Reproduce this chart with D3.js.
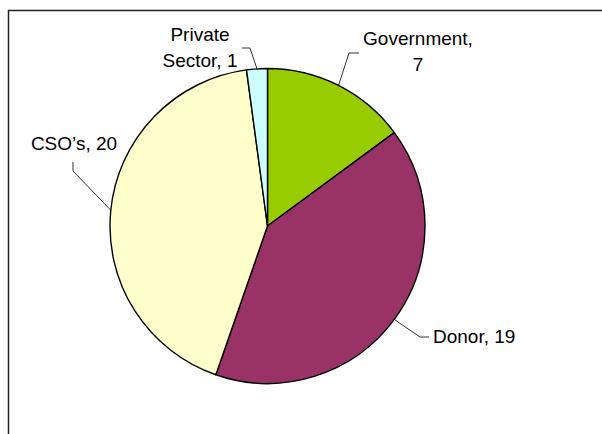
<!DOCTYPE html>
<html>
<head>
<meta charset="utf-8">
<script src="https://cdn.jsdelivr.net/npm/d3@7"></script>
<style>
  html, body { margin: 0; padding: 0; background: #fff; }
  svg { display: block; }
  text { font-family: "Liberation Sans", Arial, sans-serif; font-size: 19px; fill: #000; }
</style>
</head>
<body>
<div id="chart"></div>
<script>
// data
const categories = ["Government", "Donor", "CSO\u2019s", "Private Sector"];
const values = [7, 19, 20, 1];
const colors = ["#99CC00", "#993366", "#FFFFCC", "#CCFFFF"];
// label text lines as shown in the chart
const labelLines = [
    ["Government,", "7"],
    ["Donor, 19"],
    ["CSO\u2019s, 20"],
    ["Private", "Sector, 1"]
];

// layout of the labels (elbow / end of leader, text anchor)
const labelLayout = [
    { elbow: [349, 53], end: [359, 53], tx: 418, ty: 45, anchor: "middle" },
    { elbow: [420, 337], end: [429, 337], tx: 433, ty: 343, anchor: "start" },
    { elbow: [73, 171], end: [73, 162], tx: 74, ty: 150, anchor: "middle" },
    { elbow: [250, 48], end: [242, 48], tx: 200, ty: 41, anchor: "middle" }
];

const width = 602, height = 434;
const cx = 267.5, cy = 226, r = 157.5;

const svg = d3.select("#chart").append("svg")
    .attr("width", width)
    .attr("height", height);

svg.append("rect").attr("width", width).attr("height", height).attr("fill", "#fff");

// chart area frame (extends beyond the window on right/bottom)
svg.append("rect")
    .attr("x", 8.5).attr("y", 10.5)
    .attr("width", 700).attr("height", 600)
    .attr("fill", "none")
    .attr("stroke", "#222")
    .attr("stroke-width", 1.5);

const data = categories.map((c, i) => ({ name: c, value: values[i], color: colors[i], i: i }));

const pie = d3.pie().sort(null).value(d => d.value);
const arc = d3.arc().innerRadius(0).outerRadius(r);

const g = svg.append("g").attr("transform", `translate(${cx},${cy})`);

const arcs = pie(data);

g.selectAll("path.slice").data(arcs).enter().append("path")
    .attr("class", "slice")
    .attr("d", arc)
    .attr("fill", d => d.data.color)
    .attr("stroke", "#000")
    .attr("stroke-width", 1.4)
    .attr("stroke-linejoin", "round");

// leader lines
arcs.forEach(a => {
    const mid = (a.startAngle + a.endAngle) / 2;
    const ex = cx + r * Math.sin(mid);
    const ey = cy - r * Math.cos(mid);
    const L = labelLayout[a.data.i];
    svg.append("polyline")
        .attr("points", [[ex, ey], L.elbow, L.end].map(p => p.join(",")).join(" "))
        .attr("fill", "none")
        .attr("stroke", "#000")
        .attr("stroke-width", 0.8);

    const t = svg.append("text")
        .attr("x", L.tx).attr("y", L.ty)
        .attr("text-anchor", L.anchor);
    labelLines[a.data.i].forEach((line, k) => {
        t.append("tspan")
            .attr("x", L.tx)
            .attr("dy", k === 0 ? 0 : 26)
            .text(line);
    });
});
</script>
</body>
</html>
